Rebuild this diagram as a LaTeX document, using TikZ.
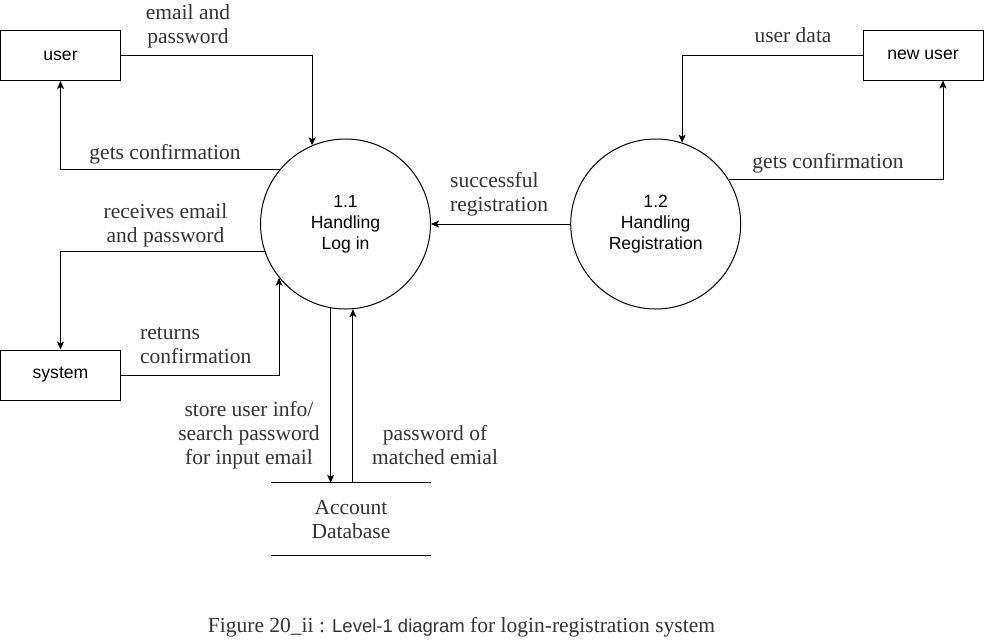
\documentclass[tikz,border=0pt]{standalone}
\usepackage{fontspec}
\setmainfont{Liberation Serif}
\setsansfont{Liberation Sans}
\usetikzlibrary{arrows.meta}
\definecolor{lbl}{RGB}{51,51,51}
\begin{document}
\begin{tikzpicture}[x=1pt,y=-1pt,
  ent/.style={draw, line width=1pt, minimum width=120pt, minimum height=50pt, inner sep=0pt, font=\sffamily\fontsize{17.6}{21}\selectfont},
  proc/.style={draw, circle, line width=1pt, minimum size=170pt, inner sep=0pt, align=center, font=\sffamily\fontsize{17.6}{21}\selectfont},
  lab/.style={text=lbl, align=center, inner sep=0pt, font=\fontsize{21.5}{24}\selectfont},
  flow/.style={line width=1pt, -{Stealth[length=8pt,width=7pt,inset=2pt]}},
  plain/.style={line width=1pt},
]
\useasboundingbox[fill=white] (0,0) rectangle (984,641);

% external entities
\node[ent] (user) at (60.5,55.5) {user};
\node[ent] (system) at (60.5,375) {system};
\node[ent] (newuser) at (923,55) {new user};

% processes
\node[proc] (c11) at (345.5,224) {1.1\\Handling\\Log in};
\node[proc] (c12) at (655.7,224) {1.2\\Handling\\Registration};

% data store
\node[lab, minimum width=160pt, minimum height=72pt] (db) at (351,519) {Account\\Database};
\draw[plain] (db.north west) -- (db.north east);
\draw[plain] (db.south west) -- (db.south east);

% flows
\draw[flow] (user.east) -| (c11.113.2);
\draw[flow] (c11.140.5) -| (user.south);
\draw[flow] (c11.199.2) -| (system.north);
\draw[flow] (system.east) -| (c11.219.6);
\draw[flow] (c12.west) -- (c11.east);
\draw[flow] (newuser.west) -| (c12.72.7);
\draw[flow] (c12.31.2) -| ([xshift=20pt]newuser.south);
\draw[flow] (c11.260.2) -- (c11.260.2 |- db.north);
\draw[flow] (db.north -| c11.275.1) -- (c11.275.1);

% labels
\node[lab] (l1) at (188,26) {email and\\password};
\node[lab] (l2) at (165,154) {gets confirmation};
\node[lab] (l3) at (165.5,225.5) {receives email\\and password};
\node[lab, align=left, anchor=west] (l4) at (140,345.5) {returns\\confirmation};
\node[lab, align=left, anchor=west] (l5) at (450,194) {successful\\registration};
\node[lab] (l6) at (793,35) {user data};
\node[lab] (l7) at (828,163) {gets confirmation};
\node[lab] (l8) at (249,435) {store user info/\\search password\\for input email};
\node[lab] (l9) at (435,445.5) {password of\\matched emial};

% caption
\node[lab] (cap) at (461.5,627) {Figure 20\_ii : {\sffamily\fontsize{18.5}{21}\selectfont Level-1 diagram} for login-registration system};
\end{tikzpicture}
\end{document}
